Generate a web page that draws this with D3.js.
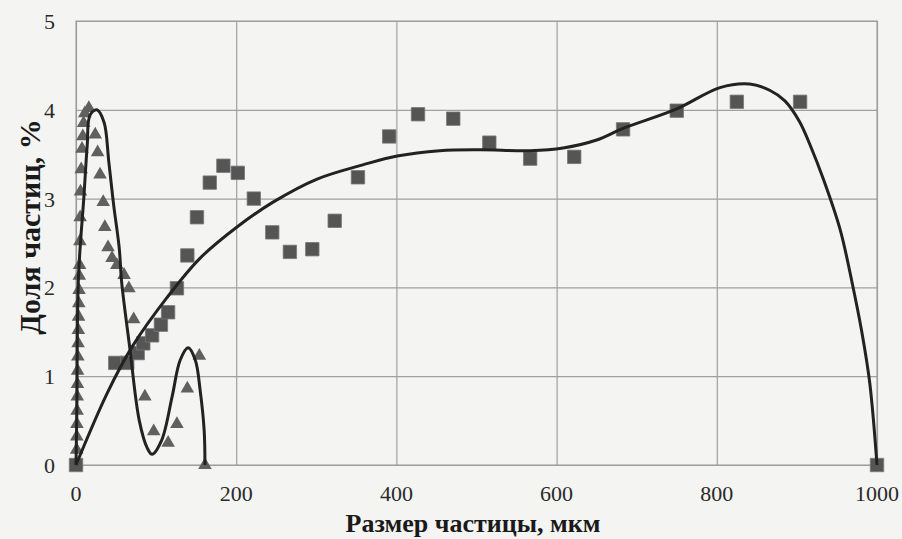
<!DOCTYPE html>
<html>
<head>
<meta charset="utf-8">
<script src="https://cdn.jsdelivr.net/npm/d3@7"></script>
<style>
  html, body { margin: 0; padding: 0; background: #f4f4f2; }
  svg { display: block; }
</style>
</head>
<body>
<script>
// axis ticks
var xTicks = [0, 200, 400, 600, 800, 1000];
var yTicks = [0, 1, 2, 3, 4, 5];

// squares (coarse fraction)
var squareX = [0, 49, 64, 77, 84, 95, 106, 115, 126, 139, 151, 167, 184, 202, 222, 245, 267, 295, 323, 352,
	391, 427, 471, 516, 567, 622, 683, 750, 825, 904, 1000];
var squareY = [0, 1.15, 1.15, 1.26, 1.37, 1.46, 1.58, 1.72, 1.99, 2.36, 2.79, 3.18, 3.37, 3.29, 3.0, 2.62, 2.4, 2.43, 2.75, 3.24,
	3.7, 3.95, 3.9, 3.63, 3.45, 3.47, 3.78, 3.99, 4.09, 4.09, 0];

// triangles (fine fraction)
var triX = [0.5, 0.8, 1, 1.2, 1.4, 1.6, 1.8, 2, 2.3, 2.6, 2.9, 3.2, 3.5, 3.8, 4.1, 4.5, 4.8, 5.2, 5.6, 6.5, 7.5, 8.5, 9.5, 11,
	16, 24, 27, 30, 34, 36, 40, 45, 51, 60, 66, 72, 86, 97, 115, 126, 139, 154, 161];
var triY = [0.02, 0.17, 0.32, 0.46, 0.61, 0.77, 0.91, 1.06, 1.22, 1.37, 1.52, 1.67, 1.82, 1.97, 2.13, 2.25, 2.52, 2.79, 3.08, 3.33, 3.56, 3.7, 3.85, 3.96,
	4.02, 3.72, 3.52, 3.27, 2.96, 2.68, 2.45, 2.33, 2.25, 2.14, 1.99, 1.64, 0.77, 0.38, 0.25, 0.46, 0.86, 1.23, 0];

// approximation curve for triangles
var fitAX = [0, 1, 3, 10, 14, 17.5, 26, 35, 41, 47, 54, 57, 67, 79, 89, 95, 107, 120, 130, 140, 149, 155, 160, 161];
var fitAY = [0, 0.6, 2.1, 3.04, 3.6, 3.94, 4.0, 3.86, 3.41, 2.93, 2.44, 2.06, 1.33, 0.5, 0.19, 0.12, 0.28, 0.77, 1.18, 1.32, 1.18, 0.84, 0.39, 0];

// approximation curve for squares
var fitBX = [0, 39, 70, 114, 155, 201, 246, 301, 358, 401, 454, 504, 567, 608, 650, 683, 750, 804, 841, 866, 885, 903, 918,
	933, 954, 969, 981, 991, 1000];
var fitBY = [0, 0.81, 1.33, 1.89, 2.33, 2.68, 2.96, 3.22, 3.38, 3.48, 3.54, 3.55, 3.54, 3.57, 3.66, 3.79, 4.01, 4.25, 4.29, 4.22, 4.10, 3.87, 3.57,
	3.22, 2.65, 2.05, 1.5, 0.92, 0];

var W = 902, H = 539;
var plotL = 76, plotR = 877, plotT = 21, plotB = 465;

var svg = d3.select('body').append('svg')
	.attr('width', W)
	.attr('height', H);

var x = d3.scaleLinear().domain([0, 1000]).range([plotL, plotR]);
var y = d3.scaleLinear().domain([0, 5]).range([plotB, plotT]);

// grid
svg.append('g')
	.attr('transform', 'translate(0,' + plotB + ')')
	.call(d3.axisBottom(x).tickValues(xTicks).tickSize(-(plotB - plotT)).tickFormat(''))
	.call(function(g) {
		g.select('.domain').remove();
		g.selectAll('line').attr('stroke', '#a0a0a0').attr('stroke-width', 1.2);
	});
svg.append('g')
	.attr('transform', 'translate(' + plotL + ',0)')
	.call(d3.axisLeft(y).tickValues(yTicks).tickSize(-(plotR - plotL)).tickFormat(''))
	.call(function(g) {
		g.select('.domain').remove();
		g.selectAll('line').attr('stroke', '#a0a0a0').attr('stroke-width', 1.2);
	});

svg.append('rect')
	.attr('x', plotL).attr('y', plotT)
	.attr('width', plotR - plotL).attr('height', plotB - plotT)
	.attr('fill', 'none')
	.attr('stroke', '#999');

// tick labels
var serif = '"Liberation Serif", "DejaVu Serif", serif';
svg.append('g').selectAll('text')
	.data(xTicks)
	.enter().append('text')
		.attr('x', function(d) { return x(d); })
		.attr('y', 501)
		.attr('text-anchor', 'middle')
		.attr('font-family', serif)
		.attr('font-size', 22)
		.attr('fill', '#2a2a2a')
		.text(function(d) { return d; });

svg.append('g').selectAll('text')
	.data(yTicks)
	.enter().append('text')
		.attr('x', 55)
		.attr('y', function(d) { return y(d) + 8; })
		.attr('text-anchor', 'end')
		.attr('font-family', serif)
		.attr('font-size', 22)
		.attr('fill', '#2a2a2a')
		.text(function(d) { return d; });

// axis titles
svg.append('text')
	.attr('x', 473)
	.attr('y', 532)
	.attr('text-anchor', 'middle')
	.attr('font-family', serif)
	.attr('font-weight', 'bold')
	.attr('font-size', 26)
	.attr('fill', '#1a1a1a')
	.text('Размер частицы, мкм');

svg.append('text')
	.attr('transform', 'translate(40,227)rotate(-90)')
	.attr('text-anchor', 'middle')
	.attr('font-family', serif)
	.attr('font-weight', 'bold')
	.attr('font-size', 30)
	.attr('fill', '#1a1a1a')
	.text('Доля частиц, %');

// markers
var squares = d3.range(squareX.length).map(function(i) { return [squareX[i], squareY[i]]; });
var tris = d3.range(triX.length).map(function(i) { return [triX[i], triY[i]]; });

svg.append('g').selectAll('path')
	.data(tris)
	.enter().append('path')
		.attr('d', d3.symbol().type(d3.symbolTriangle).size(80))
		.attr('transform', function(d) { return 'translate(' + x(d[0]) + ',' + y(d[1]) + ')'; })
		.attr('fill', '#606060');

svg.append('g').selectAll('path')
	.data(squares)
	.enter().append('path')
		.attr('d', d3.symbol().type(d3.symbolSquare).size(180))
		.attr('transform', function(d) { return 'translate(' + x(d[0]) + ',' + y(d[1]) + ')'; })
		.attr('fill', '#555')
		.attr('stroke', '#777')
		.attr('stroke-width', 0.8);

// fitted curves
var line = d3.line()
	.x(function(d) { return x(d[0]); })
	.y(function(d) { return y(d[1]); })
	.curve(d3.curveCatmullRom.alpha(0.5));

var fitA = d3.range(fitAX.length).map(function(i) { return [fitAX[i], fitAY[i]]; });
var fitB = d3.range(fitBX.length).map(function(i) { return [fitBX[i], fitBY[i]]; });

svg.selectAll('.fit')
	.data([fitA, fitB])
	.enter().append('path')
		.attr('class', 'fit')
		.attr('d', line)
		.attr('fill', 'none')
		.attr('stroke', '#222')
		.attr('stroke-width', 3)
		.attr('stroke-linejoin', 'round');
</script>
</body>
</html>
